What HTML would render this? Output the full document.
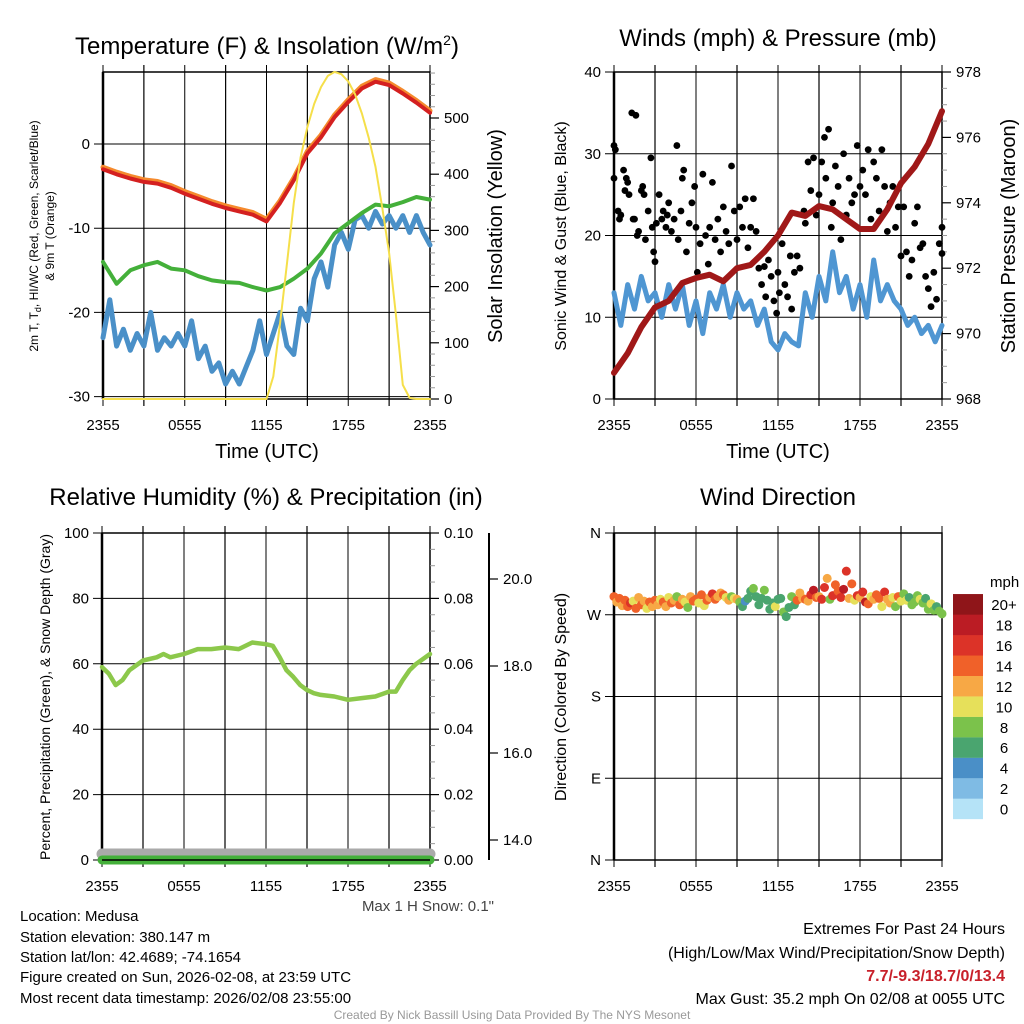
<!DOCTYPE html>
<html><head><meta charset="utf-8"><style>
html,body{margin:0;padding:0;background:#fff;}
svg{display:block;font-family:"Liberation Sans",sans-serif;}
</style></head><body>
<svg id="s" width="1024" height="1024" viewBox="0 0 1024 1024" xmlns="http://www.w3.org/2000/svg">
<text x="267" y="54" font-size="24" text-anchor="middle">Temperature (F) &amp; Insolation (W/m<tspan dy="-9" font-size="14">2</tspan><tspan dy="9">)</tspan></text>
<text x="778" y="46" font-size="24" text-anchor="middle">Winds (mph) &amp; Pressure (mb)</text>
<text x="266" y="505" font-size="24" text-anchor="middle">Relative Humidity (%) &amp; Precipitation (in)</text>
<text x="778" y="505" font-size="24" text-anchor="middle">Wind Direction</text>
<text transform="translate(38,236) rotate(-90)" font-size="12" text-anchor="middle">2m T, T<tspan dy="3" font-size="9">d</tspan><tspan dy="-3">, HI/WC (Red, Green, Scarlet/Blue)</tspan></text>
<text transform="translate(54,236) rotate(-90)" font-size="12" text-anchor="middle">&amp; 9m T (Orange)</text>
<text transform="translate(502,236) rotate(-90)" font-size="20" text-anchor="middle">Solar Insolation (Yellow)</text>
<text transform="translate(566,236) rotate(-90)" font-size="16" text-anchor="middle">Sonic Wind &amp; Gust (Blue, Black)</text>
<text transform="translate(1015,236) rotate(-90)" font-size="20" text-anchor="middle">Station Pressure (Maroon)</text>
<text transform="translate(50,697) rotate(-90)" font-size="14" text-anchor="middle">Percent, Precipitation (Green), &amp; Snow Depth (Gray)</text>
<text transform="translate(566,697) rotate(-90)" font-size="16" text-anchor="middle">Direction (Colored By Speed)</text>
<text x="267" y="458" font-size="20" text-anchor="middle">Time (UTC)</text>
<text x="778" y="458" font-size="20" text-anchor="middle">Time (UTC)</text>
<text x="494" y="911" font-size="15" fill="#444" text-anchor="end">Max 1 H Snow: 0.1"</text>
<g font-size="15">
<text x="20" y="921">Location: Medusa</text>
<text x="20" y="942">Station elevation: 380.147 m</text>
<text x="20" y="962">Station lat/lon: 42.4689; -74.1654</text>
<text x="20" y="982">Figure created on Sun, 2026-02-08, at 23:59 UTC</text>
<text x="20" y="1003">Most recent data timestamp: 2026/02/08 23:55:00</text>
</g>
<g font-size="16" text-anchor="end">
<text x="1005" y="934">Extremes For Past 24 Hours</text>
<text x="1005" y="958">(High/Low/Max Wind/Precipitation/Snow Depth)</text>
<text x="1005" y="981" fill="#c8202a" font-weight="bold">7.7/-9.3/18.7/0/13.4</text>
<text x="1005" y="1004">Max Gust: 35.2 mph On 02/08 at 0055 UTC</text>
</g>
<text x="512" y="1019" font-size="12" fill="#999" text-anchor="middle">Created By Nick Bassill Using Data Provided By The NYS Mesonet</text>
<text x="990" y="587" font-size="15">mph</text>
</svg>
<script>
// ---------- data ----------
const hours = [0,1,2,3,4,5,6,7,8,9,10,11,12,13,14,15,16,17,18,19,20,21,22,23,24];
const tempF = [-3,-3.6,-4.1,-4.5,-4.7,-5.2,-5.9,-6.5,-7.1,-7.6,-8.0,-8.4,-9.2,-7.0,-4.3,-1.1,0.8,3.2,5.0,6.6,7.4,7.0,6.0,4.9,3.7];
const dewF = [-14,-16.6,-15,-14.4,-14,-14.8,-15,-15.7,-16.2,-16.4,-16.5,-17,-17.4,-17,-16,-14.8,-13,-10.6,-9.4,-8.2,-7.2,-7.4,-6.9,-6.3,-6.6];
const halfHours = [0,0.5,1,1.5,2,2.5,3,3.5,4,4.5,5,5.5,6,6.5,7,7.5,8,8.5,9,9.5,10,10.5,11,11.5,12,12.5,13,13.5,14,14.5,15,15.5,16,16.5,17,17.5,18,18.5,19,19.5,20,20.5,21,21.5,22,22.5,23,23.5,24];
const windChillF = [-23,-18.5,-24,-22,-24.5,-22.5,-24,-20,-24.5,-23,-24,-22.5,-24,-21,-25.5,-24,-27,-26,-28.5,-27,-28.5,-26.5,-24.5,-21,-25,-22.5,-20,-24,-25,-19.5,-21,-16,-14,-17,-12,-10.5,-12.5,-9,-8.5,-10,-8,-9.5,-8.5,-10,-8.5,-10.5,-8.5,-10.5,-12];
const insolation = [0,0,0,0,0,0,0,0,0,0,0,0,0,0,0,0,0,0,0,0,0,0,0,0,0,40,135,240,349,430,484,525,555,575,582,578,565,542,508,465,413,340,260,150,25,2,0,0,0];
const windMph = [13,9,14,11,15,12,13,10,14,11,14,9,12,8,13,11,14,10,13,11,12,9,11,7,6,8,7,6.5,13,10,15,12,18,13,15,11,14,10,17,12,14,12,11,9,10,8,9,7,9];
const pressureMb = [968.8,969.4,970.2,970.8,971.0,971.55,971.7,971.8,971.6,972.0,972.1,972.5,973.0,973.7,973.6,973.9,973.8,973.5,973.2,973.2,973.8,974.6,975.1,975.8,976.8];
const gustHours = [0,0,0.1,0.3,0.4,0.5,0.7,0.8,0.9,1,1.1,1.3,1.4,1.5,1.6,1.7,1.8,2,2.1,2.2,2.3,2.5,2.7,2.8,2.9,3,3.1,3.3,3.5,3.6,3.8,3.9,4,4.2,4.4,4.6,4.7,4.9,5,5.1,5.3,5.5,5.7,5.9,6,6.1,6.3,6.5,6.7,6.9,7,7.2,7.4,7.6,7.8,8,8.2,8.4,8.6,8.8,9,9.2,9.4,9.6,9.8,10,10.2,10.4,10.6,10.8,11,11.1,11.3,11.5,11.7,11.9,12,12.1,12.3,12.5,12.7,12.9,13,13.2,13.4,13.6,13.9,14,14.2,14.4,14.6,14.8,15,15.2,15.4,15.5,15.7,15.9,16,16.2,16.4,16.6,16.8,17,17.2,17.4,17.6,17.8,18,18.2,18.4,18.6,18.8,19,19.2,19.4,19.6,19.8,20,20.2,20.4,20.6,20.8,21,21.2,21.4,21.6,21.8,22,22.2,22.4,22.6,22.8,23,23.2,23.4,23.6,23.8,24,24];
const gustMph = [31,27,30.5,23,22,22.5,28,25.5,27,26.5,25,35,22,22,34.7,20,20.5,25.5,26,25,19.5,23,29.5,21,18,16.8,21.5,25,22,23,21,22.5,24,20.5,22,31,19.5,23,27,28,18,21.5,24,26,21,15.5,19,27.5,20,16.5,21,26.5,19.5,22,18,23.5,20.5,19,28.5,23,19.5,23.5,21,24.5,18.5,21,24.5,20.5,16,14,16.2,12.5,17,15,12,10.5,15.5,13,19,14,12.5,17.5,11,15.5,17.5,16,23,21.5,29,25.5,29.5,22.5,25,29,32,27,33,21,24,28.5,26,19.5,30,22.5,27,24,25,31,26,28,25,30.5,22,29,27,23,30.5,26,20.5,24,26,21,23.5,17.5,23.5,18,15,17,21.5,23.5,18.5,19,15,13.5,11.3,15.5,12.2,19,21,17.8];
const rhHours = [0,0.5,1,1.5,2,3,4,4.5,5,6,7,8,9,10,11,12,12.5,13,13.5,14,14.5,15,15.5,16,17,18,19,20,21,21.5,22,22.5,23,24];
const rhPct = [59,57,53.5,55,58,61,62,63,62,63,64.5,64.5,65,64.5,66.5,66,65.5,62,58,56,53.5,52,51,50.5,50,49,49.5,50,51.5,51.5,55,58,60,63];
const dirHours = [0,0.2,0.4,0.6,0.8,1,1.2,1.4,1.6,1.8,2,2.2,2.4,2.6,2.8,3,3.2,3.4,3.6,3.8,4,4.2,4.4,4.6,4.8,5,5.2,5.4,5.6,5.8,6,6.2,6.4,6.6,6.8,7,7.2,7.4,7.6,7.8,8,8.2,8.4,8.6,8.8,9,9.2,9.4,9.6,9.8,10,10.2,10.4,10.6,10.8,11,11.2,11.4,11.6,11.8,12,12.2,12.4,12.6,12.8,13,13.2,13.4,13.6,13.8,14,14.2,14.4,14.6,14.8,15,15.2,15.4,15.6,15.8,16,16.2,16.4,16.6,16.8,17,17.2,17.4,17.6,17.8,18,18.2,18.4,18.6,18.8,19,19.2,19.4,19.6,19.8,20,20.2,20.4,20.6,20.8,21,21.2,21.4,21.6,21.8,22,22.2,22.4,22.6,22.8,23,23.2,23.4,23.6,23.8,24];
const dirDeg = [290,284,288,280,286,279,283,285,277,289,
281,285,277,284,279,286,281,287,284,279,
289,283,286,290,281,287,284,278,290,285,
287,283,292,280,286,289,293,287,290,294,
292,289,286,290,288,287,284,279,285,288,
296,299,290,281,288,297,286,276,283,279,
287,288,273,268,278,290,281,286,294,288,
287,285,292,297,289,290,287,300,310,287,
291,303,296,289,298,318,288,304,286,291,
289,295,284,282,290,287,292,288,279,295,
287,283,289,279,290,285,293,286,289,281,
284,291,287,283,288,276,282,275,279,274,
271];
const dirSpeed = [14,13,15,12,15,14,16,10,14,13,
15,12,10,14,12,15,13,11,14,12,
10,15,12,9,14,13,10,8,12,15,
14,11,15,10,15,12,16,15,12,13,
14,11,12,9,10,12,8,7,5,6,
7,8,7,6,6,9,7,6,7,10,
7,6,8,7,6,9,7,14,13,12,
15,12,16,18,15,13,17,16,12,9,
16,14,15,17,19,16,13,15,11,17,
13,16,18,15,10,12,15,14,11,16,
13,12,10,9,14,11,8,10,7,9,
8,9,10,8,7,9,10,8,7,9,
8];
const speedBins = ["0","2","4","6","8","10","12","14","16","18","20+"];
const binColors = ["#b5e3f7","#7fbbe4","#4a8fc7","#4aa56f","#7bc24b","#e6e05a","#f7a845","#f06129","#dc3328","#bb1c24","#8f1519"];
const timeLabels = ["2355","0555","1155","1755","2355"];
// ---------- helpers ----------
const NS = "http://www.w3.org/2000/svg";
const svg = document.getElementById('s');
function mk(tag, attrs, parent) {
  const e = document.createElementNS(NS, tag);
  for (const k in attrs) e.setAttribute(k, attrs[k]);
  (parent || svg).appendChild(e);
  return e;
}
function lin(d0, d1, r0, r1) { return v => r0 + (v - d0) * (r1 - r0) / (d1 - d0); }
function pts(xs, ys, fx, fy) { return xs.map((h, i) => fx(h).toFixed(1) + ',' + fy(ys[i]).toFixed(1)).join(' '); }

function frame(name, x0, x1, y0, y1, yTicks, fy, yLabels) {
  const g = mk('g', {});
  
  
  const fx = lin(0, 24, x0, x1);
  for (let h = 0; h <= 24; h += 3) {
    const l = mk('line', {x1: fx(h), x2: fx(h), y1: y0 - 7, y2: y1 + 7, stroke: '#000', 'stroke-width': (h % 6 ? 1.2 : 1)}, g);
    
    
  }
  timeLabels.forEach((t, i) => {
    const tx = mk('text', {x: fx(i * 6), y: y1 + 31, 'font-size': 15, 'text-anchor': 'middle'}, g);
    
    
    tx.textContent = t;
  });
  yTicks.forEach((v, i) => {
    const l = mk('line', {x1: x0 - 9, x2: x1, y1: fy(v), y2: fy(v), stroke: '#000', 'stroke-width': 1}, g);
    
    
    const tx = mk('text', {x: x0 - 13, y: fy(v) + 5, 'font-size': 15, 'text-anchor': 'end'}, g);
    
    
    tx.textContent = yLabels[i];
  });
  const r = mk('rect', {x: x0, y: y0, width: x1 - x0, height: y1 - y0, fill: 'none', stroke: '#000', 'stroke-width': 1.5}, g);
  
  
  const lb = mk('line', {x1: x0, x2: x0, y1: y0, y2: y1, stroke: '#000', 'stroke-width': 2.5}, g);
  
  
  return fx;
}
function rightAxis(name, x, y0, y1, vals, fy, labels, minorVals) {
  const g = mk('g', {});
  
  
  minorVals.forEach(v => {
    const l = mk('line', {x1: x, x2: x + 5, y1: fy(v), y2: fy(v), stroke: '#999', 'stroke-width': 1}, g);
    
    
  });
  vals.forEach((v, i) => {
    const l = mk('line', {x1: x, x2: x + 9, y1: fy(v), y2: fy(v), stroke: '#000', 'stroke-width': 1.2}, g);
    
    
    const tx = mk('text', {x: x + 14, y: fy(v) + 5, 'font-size': 15}, g);
    
    
    tx.textContent = labels[i];
  });
}
function line(name, xs, ys, fx, fy, color, w) {
  const p = mk('polyline', {points: pts(xs, ys, fx, fy), fill: 'none', stroke: color, 'stroke-width': w, 'stroke-linejoin': 'round', 'stroke-linecap': 'round'});
  
  
  return p;
}
// ---------- panel 1 ----------
const fyT = lin(0, -30, 144, 396.6);
const fyI = lin(0, 500, 399, 118);
const fx1 = frame('temperature', 103, 430, 72, 399, [-30, -20, -10, 0], fyT, ['-30', '-20', '-10', '0']);
rightAxis('insolation-axis', 430, 72, 399, [0, 100, 200, 300, 400, 500], fyI, ['0', '100', '200', '300', '400', '500'], [20,40,60,80,120,140,160,180,220,240,260,280,320,340,360,380,420,440,460,480,520,540,560,580]);
line('wind-chill-line', halfHours, windChillF, fx1, fyT, '#4a90c8', 5);
line('dewpoint-line', hours, dewF, fx1, fyT, '#44b03a', 4);
line('9m-temperature-line', hours, tempF.map(v => v + 0.25), fx1, fyT, '#f58a2d', 5);
line('temperature-line', hours, tempF, fx1, fyT, '#d42020', 4);
line('insolation-line', halfHours, insolation, fx1, fyI, '#f5df4a', 2);
// ---------- panel 2 ----------
const fyW = lin(0, 40, 399, 72);
const fyP = lin(968, 978, 399, 72);
const fx2 = frame('winds', 614, 942, 72, 399, [0, 10, 20, 30, 40], fyW, ['0', '10', '20', '30', '40']);
rightAxis('pressure-axis', 942, 72, 399, [968, 970, 972, 974, 976, 978], fyP, ['968', '970', '972', '974', '976', '978'], [968.5,969,969.5,970.5,971,971.5,972.5,973,973.5,974.5,975,975.5,976.5,977,977.5]);
line('wind-speed-line', halfHours, windMph, fx2, fyW, '#4f96d2', 5);
gustHours.forEach((h, i) => {
  const c = mk('circle', {cx: fx2(h), cy: fyW(gustMph[i]), r: 3.4, fill: '#000'});
  
  
});
line('pressure-line', hours, pressureMb, fx2, fyP, '#a01818', 6);
// ---------- panel 3 ----------
const fyR = lin(0, 100, 860, 533);
const fyS = lin(14, 20, 840, 579);
const fx3 = frame('humidity', 102, 430, 533, 860, [0, 20, 40, 60, 80, 100], fyR, ['0', '20', '40', '60', '80', '100']);
rightAxis('precipitation-axis', 430, 533, 860, [0, 20, 40, 60, 80, 100], fyR, ['0.00', '0.02', '0.04', '0.06', '0.08', '0.10'], [5,10,15,25,30,35,45,50,55,65,70,75,85,90,95]);
rightAxis('snow-depth-axis', 489, 533, 860, [14, 16, 18, 20], fyS, ['14.0', '16.0', '18.0', '20.0'], []);
const sa = mk('line', {x1: 489, x2: 489, y1: 533, y2: 860, stroke: '#000', 'stroke-width': 2});


const snowBand = mk('line', {x1: fx3(0), x2: fx3(24), y1: 854, y2: 854, stroke: '#aaa', 'stroke-width': 11, 'stroke-linecap': 'round'});


const precip = mk('line', {x1: fx3(0), x2: fx3(24), y1: fyR(0), y2: fyR(0), stroke: '#44b03a', 'stroke-width': 9, 'stroke-linecap': 'round'});


const bl = mk('line', {x1: 102, x2: 430, y1: 860, y2: 860, stroke: '#000', 'stroke-width': 1.5});


line('relative-humidity-line', rhHours, rhPct, fx3, fyR, '#8cc84b', 4.5);
// ---------- panel 4 ----------
const fyD = lin(0, 360, 860, 533);
const fx4 = frame('wind-direction', 614, 942, 533, 860, [0, 90, 180, 270, 360], fyD, ['N', 'E', 'S', 'W', 'N']);
dirHours.forEach((h, i) => {
  const b = Math.max(0, Math.min(10, Math.floor((dirSpeed[i] || 0) / 2)));
  const c = mk('circle', {cx: fx4(h), cy: fyD(dirDeg[i]), r: 4.5, fill: binColors[b]});
  
  
});
const cb = mk('g', {});


speedBins.forEach((lab, i) => {
  const y = 819 - (i + 1) * 20.45;
  const r = mk('rect', {x: 953, y: y, width: 30, height: 20.6, fill: binColors[i]}, cb);
  
  
  const t = mk('text', {x: 1004, y: y + 16, 'font-size': 15, 'text-anchor': 'middle'}, cb);
  
  
  t.textContent = lab;
});
</script>
</body></html>
